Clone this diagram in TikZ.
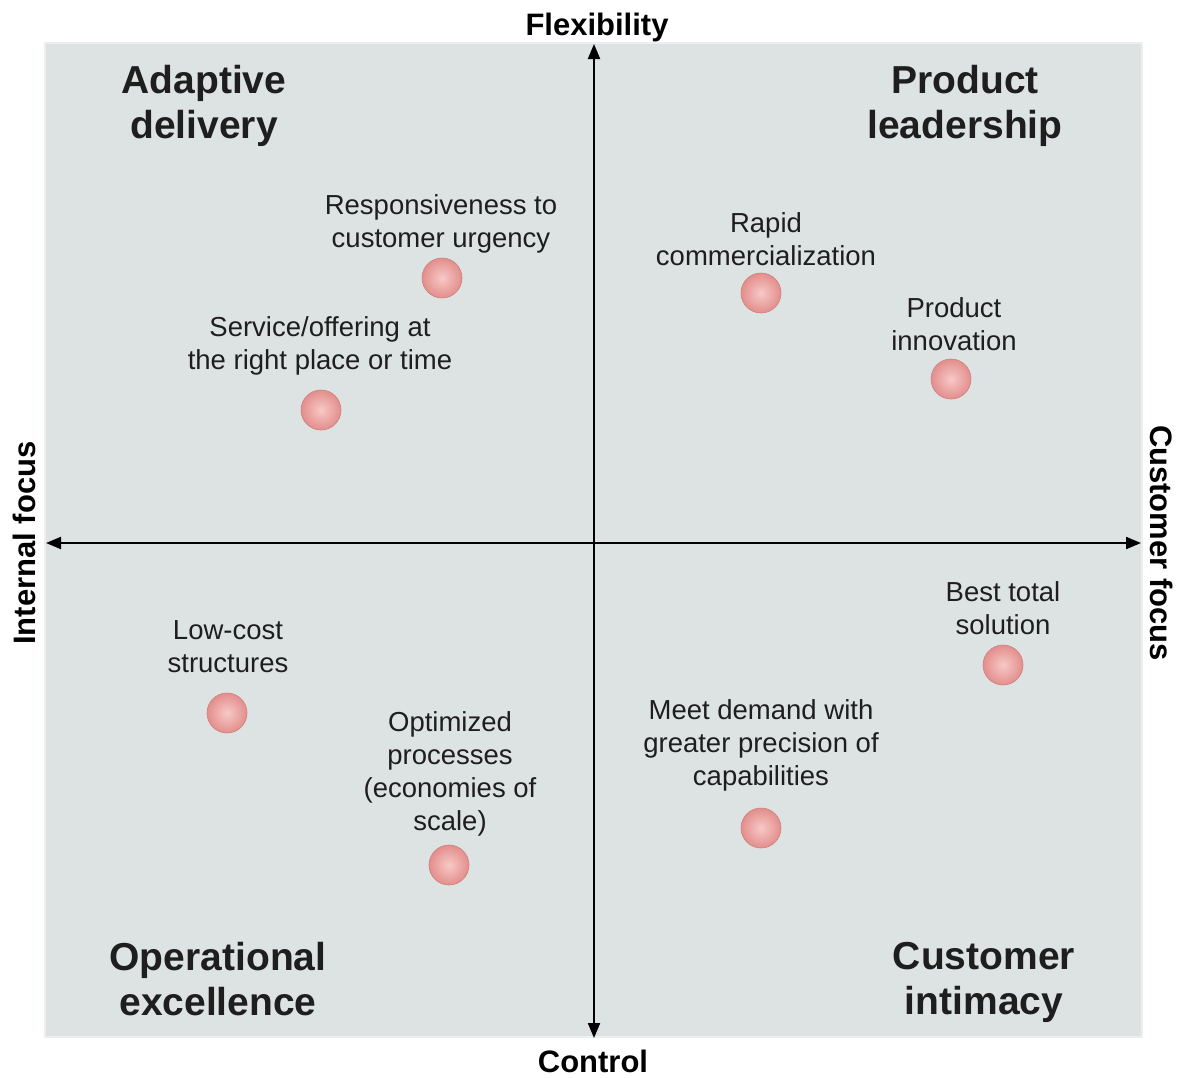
\documentclass[tikz,border=0pt]{standalone}
\usepackage{fontspec}
\setmainfont{Liberation Sans}
\usetikzlibrary{arrows.meta}
\definecolor{bgpanel}{HTML}{DDE3E3}
\definecolor{bgedge}{HTML}{EEEEEE}
\definecolor{ballc}{HTML}{E38E8C}
\definecolor{ballin}{HTML}{F6C9C6}
\definecolor{txt}{HTML}{1E1E1E}
\tikzset{
  heading/.style={font=\fontsize{39}{45}\selectfont\bfseries, text=txt, align=center, inner sep=0pt},
  axislbl/.style={font=\fontsize{31}{36}\selectfont\bfseries, text=black, inner sep=0pt},
  lbl/.style={font=\fontsize{27.5}{33}\selectfont, text=txt, align=center, inner sep=0pt},
  ball/.style={circle, minimum size=40pt, inner sep=0pt, draw=ballc!90!black, line width=0.6pt,
    inner color=ballin, outer color=ballc},
  axis/.style={line width=2pt, black, -{Triangle[length=15pt,width=12pt]}}
}
\begin{document}
\begin{tikzpicture}[x=1pt,y=-1pt]
\useasboundingbox (0,0) rectangle (1184,1077);
\fill[white] (0,0) rectangle (1184,1077);
\draw[fill=bgpanel, draw=bgedge, line width=2pt] (45,43) rectangle (1142,1037);

\coordinate (c) at (594,543);
\coordinate (top) at (594,44);
\coordinate (bot) at (594,1038);
\coordinate (lft) at (46,543);
\coordinate (rgt) at (1141,543);
\draw[axis] (c) -- (top);
\draw[axis] (c) -- (bot);
\draw[axis] (c) -- (lft);
\draw[axis] (c) -- (rgt);

\node[axislbl] (flex) at (597,27) {Flexibility};
\node[axislbl] (ctrl) at (593,1061) {Control};
\node[axislbl, rotate=90] (intf) at (24,543) {Internal focus};
\node[axislbl, rotate=-90] (custf) at (1162,543) {Customer focus};

\node[heading] (h1) at (204,106) {Adaptive\\delivery};
\node[heading] (h2) at (965,106) {Product\\leadership};
\node[heading] (h3) at (218,979) {Operational\\excellence};
\node[heading] (h4) at (984,982) {Customer\\intimacy};

\node[lbl] (l1) at (441,224) {Responsiveness to\\customer urgency};
\node[lbl] (l2) at (320,346) {Service/offering at\\the right place or time};
\node[lbl] (l3) at (766,239) {Rapid\\commercialization};
\node[lbl] (l4) at (954,324) {Product\\innovation};
\node[lbl] (l5) at (1003,608) {Best total\\solution};
\node[lbl] (l6) at (228,647) {Low-cost\\structures};
\node[lbl] (l7) at (450,774) {Optimized\\processes\\(economies of\\scale)};
\node[lbl] (l8) at (761,745) {Meet demand with\\greater precision of\\capabilities};

\node[ball] (b1) at (442,278) {};
\node[ball] (b2) at (321,410) {};
\node[ball] (b3) at (761,293) {};
\node[ball] (b4) at (951,379) {};
\node[ball] (b5) at (1003,665) {};
\node[ball] (b6) at (227,713) {};
\node[ball] (b7) at (449,865) {};
\node[ball] (b8) at (761,828) {};
\end{tikzpicture}
\end{document}
